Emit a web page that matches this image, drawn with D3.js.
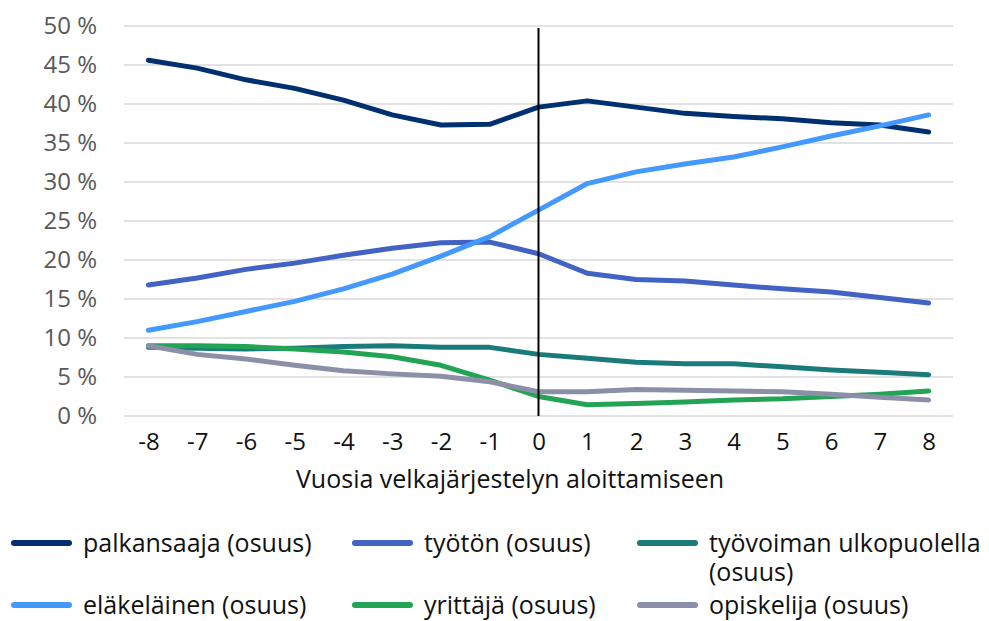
<!DOCTYPE html>
<html>
<head>
<meta charset="utf-8">
<script src="https://cdn.jsdelivr.net/npm/d3@7"></script>
<style>
  html, body { margin: 0; padding: 0; background: #fff; }
  svg { display: block; font-family: "Open Sans", "Noto Sans", sans-serif; }
</style>
</head>
<body>
<svg id="chart" width="989" height="621"></svg>
<script>
// Years relative to the start of debt restructuring
const years = [-8, -7, -6, -5, -4, -3, -2, -1, 0, 1, 2, 3, 4, 5, 6, 7, 8];

// Shares (%) of each status group
const palkansaaja = [45.6, 44.6, 43.1, 42.0, 40.5, 38.6, 37.3, 37.4, 39.6, 40.4, 39.6, 38.8, 38.4, 38.1, 37.6, 37.3, 36.4];
const tyoton      = [16.8, 17.7, 18.8, 19.6, 20.6, 21.5, 22.2, 22.3, 20.8, 18.3, 17.5, 17.3, 16.8, 16.3, 15.9, 15.2, 14.5];
const ulkopuolella = [8.8, 8.7, 8.6, 8.7, 8.9, 9.0, 8.8, 8.8, 7.9, 7.4, 6.9, 6.7, 6.7, 6.3, 5.9, 5.6, 5.3];
const elakelainen = [11.0, 12.1, 13.4, 14.7, 16.3, 18.2, 20.5, 23.0, 26.4, 29.8, 31.3, 32.3, 33.2, 34.5, 35.9, 37.2, 38.6];
const yrittaja    = [9.0, 9.0, 8.9, 8.6, 8.2, 7.6, 6.5, 4.6, 2.5, 1.45, 1.6, 1.8, 2.05, 2.2, 2.5, 2.8, 3.2];
const opiskelija  = [9.0, 7.9, 7.3, 6.5, 5.8, 5.4, 5.1, 4.4, 3.1, 3.1, 3.4, 3.3, 3.2, 3.1, 2.8, 2.4, 2.05];

const seriesNames = ["palkansaaja (osuus)", "työtön (osuus)", "työvoiman ulkopuolella (osuus)",
                     "eläkeläinen (osuus)", "yrittäjä (osuus)", "opiskelija (osuus)"];
const seriesValues = [palkansaaja, tyoton, ulkopuolella, elakelainen, yrittaja, opiskelija];
const seriesColors = ["#003070", "#4262c4", "#1b7b7a", "#4499ff", "#23a455", "#8c8fa8"];

const yTicks = [0, 5, 10, 15, 20, 25, 30, 35, 40, 45, 50];
const xTitle = "Vuosia velkajärjestelyn aloittamiseen";

const svg = d3.select("#chart");

const plot = { left: 124, right: 953, top: 26, bottom: 416 };

const x = d3.scalePoint()
  .domain(years)
  .range([plot.left, plot.right])
  .padding(0.5);

const y = d3.scaleLinear()
  .domain([0, 50])
  .range([plot.bottom, plot.top]);

// Horizontal gridlines
svg.append("g")
  .selectAll("line")
  .data(yTicks)
  .join("line")
  .attr("x1", plot.left)
  .attr("x2", plot.right)
  .attr("y1", d => y(d))
  .attr("y2", d => y(d))
  .attr("stroke", "#d9d9d9")
  .attr("stroke-width", 1.3);

// Y axis labels
const yAxis = d3.axisLeft(y)
  .tickValues(yTicks)
  .tickFormat(d => d + " %")
  .tickSize(0)
  .tickPadding(0);

svg.append("g")
  .attr("transform", `translate(97,0)`)
  .call(yAxis)
  .call(g => g.select(".domain").remove())
  .call(g => g.selectAll("text")
    .attr("fill", "#595959")
    .attr("font-size", 24)
    .attr("font-family", "'Open Sans', 'Noto Sans', sans-serif"));

// X axis labels
const xAxis = d3.axisBottom(x).tickSize(0).tickPadding(0);
svg.append("g")
  .attr("transform", `translate(0,450)`)
  .call(xAxis)
  .call(g => g.select(".domain").remove())
  .call(g => g.selectAll("text")
    .attr("dy", 0)
    .attr("fill", "#111")
    .attr("font-size", 24)
    .attr("font-family", "'Open Sans', 'Noto Sans', sans-serif"));

// X axis title
svg.append("text")
  .attr("x", 510)
  .attr("y", 488)
  .attr("text-anchor", "middle")
  .attr("font-size", 25)
  .attr("fill", "#111")
  .text(xTitle);

// Series lines
const line = d3.line()
  .x((d, i) => x(years[i]))
  .y(d => y(d));

svg.append("g")
  .selectAll("path")
  .data(seriesValues)
  .join("path")
  .attr("d", d => line(d))
  .attr("fill", "none")
  .attr("stroke", (d, i) => seriesColors[i])
  .attr("stroke-width", 5)
  .attr("stroke-linecap", "round")
  .attr("stroke-linejoin", "round");

// Vertical marker at restructuring start
svg.append("line")
  .attr("x1", x(0))
  .attr("x2", x(0))
  .attr("y1", 28)
  .attr("y2", plot.bottom)
  .attr("stroke", "#000")
  .attr("stroke-width", 2);

// Legend
const legendPos = [
  { x: 14, y: 543 }, { x: 355, y: 543 }, { x: 640, y: 543 },
  { x: 14, y: 605 }, { x: 355, y: 605 }, { x: 640, y: 605 }
];

const legend = svg.append("g")
  .selectAll("g")
  .data(seriesNames)
  .join("g")
  .attr("transform", (d, i) => `translate(${legendPos[i].x},${legendPos[i].y})`);

legend.append("line")
  .attr("x1", 0)
  .attr("x2", 55)
  .attr("y1", 0)
  .attr("y2", 0)
  .attr("stroke", (d, i) => seriesColors[i])
  .attr("stroke-width", 6)
  .attr("stroke-linecap", "round");

legend.append("text")
  .attr("x", 69)
  .attr("y", 9)
  .attr("font-size", 25)
  .attr("fill", "#111")
  .each(function(d) {
    const t = d3.select(this);
    if (d === "työvoiman ulkopuolella (osuus)") {
      t.append("tspan").attr("x", 69).attr("dy", 0).text("työvoiman ulkopuolella");
      t.append("tspan").attr("x", 69).attr("dy", 29).text("(osuus)");
    } else {
      t.text(d);
    }
  });
</script>
</body>
</html>
